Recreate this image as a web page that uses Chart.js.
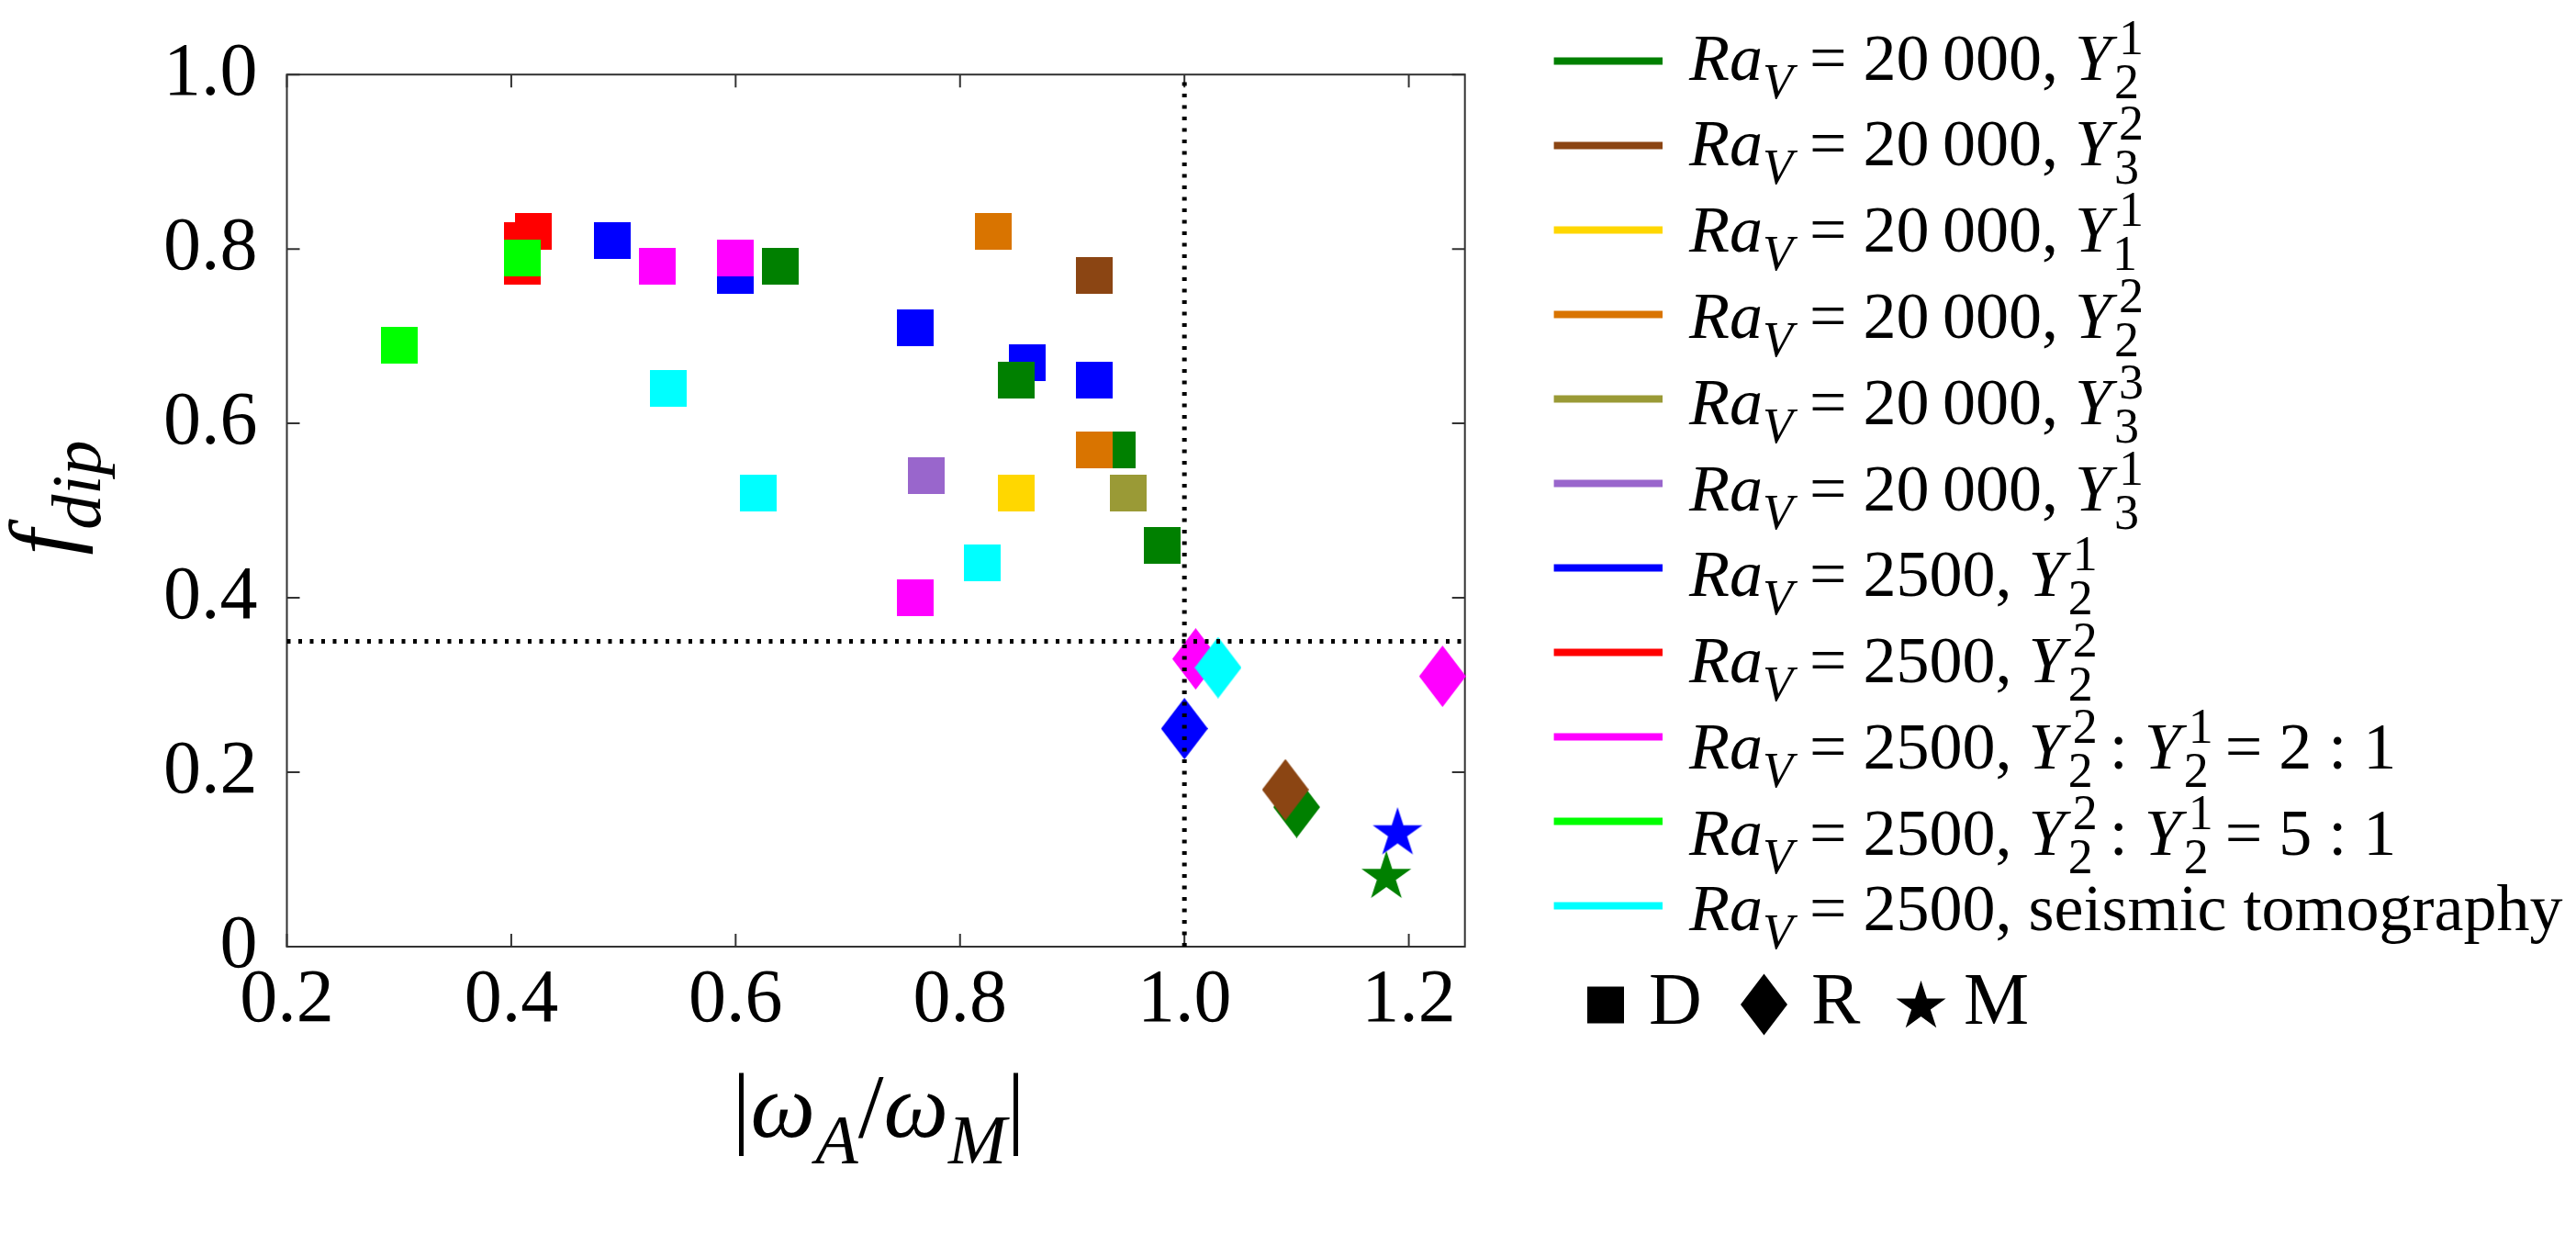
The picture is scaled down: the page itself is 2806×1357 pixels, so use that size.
<!DOCTYPE html>
<html>
<head>
<meta charset="utf-8">
<script src="https://cdn.jsdelivr.net/npm/chart.js@4.4.1/dist/chart.umd.min.js"></script>
<style>
  html, body { margin: 0; padding: 0; background: #fff; }
  #wrap { position: relative; width: 2806px; height: 1357px; }
  #graficaFdip { position: absolute; left: 0; top: 0; }
  #overlay { position: absolute; left: 0; top: 0; }
  #overlay text { font-family: 'Liberation Serif', 'Times New Roman', serif; fill: #000; }
</style>
</head>
<body>
<div id="wrap">
  <canvas id="graficaFdip" width="2806" height="1357"></canvas>
  <svg id="overlay" width="2806" height="1357" xmlns="http://www.w3.org/2000/svg"></svg>
</div>
<script>
// leyenda: *..* = cursiva, _x = subindice, ^x = superindice
const seriesLabels = [
  '*Ra*_V = 20\u2009000, *Y*_2^1',
  '*Ra*_V = 20\u2009000, *Y*_3^2',
  '*Ra*_V = 20\u2009000, *Y*_1^1',
  '*Ra*_V = 20\u2009000, *Y*_2^2',
  '*Ra*_V = 20\u2009000, *Y*_3^3',
  '*Ra*_V = 20\u2009000, *Y*_3^1',
  '*Ra*_V = 2500, *Y*_2^1',
  '*Ra*_V = 2500, *Y*_2^2',
  '*Ra*_V = 2500, *Y*_2^2 : *Y*_2^1 = 2 : 1',
  '*Ra*_V = 2500, *Y*_2^2 : *Y*_2^1 = 5 : 1',
  '*Ra*_V = 2500, seismic tomography'
];

// |omega_A / omega_M|
const seriesOmega = [
  [0.64, 0.85, 0.94, 0.98, 1.10, 1.18],
  [0.92, 1.09],
  [0.85],
  [0.83, 0.92],
  [0.95],
  [0.77],
  [0.49, 0.60, 0.76, 0.86, 0.92, 1.00, 1.19],
  [0.41, 0.41, 0.42],
  [0.53, 0.60, 0.76, 1.01, 1.23],
  [0.30, 0.41],
  [0.54, 0.62, 0.82, 1.03]
];

// f_dip
const seriesFdip = [
  [0.78, 0.65, 0.57, 0.46, 0.16, 0.08],
  [0.77, 0.18],
  [0.52],
  [0.82, 0.57],
  [0.52],
  [0.54],
  [0.81, 0.77, 0.71, 0.67, 0.65, 0.25, 0.13],
  [0.78, 0.81, 0.82],
  [0.78, 0.79, 0.40, 0.33, 0.31],
  [0.69, 0.79],
  [0.64, 0.52, 0.44, 0.32]
];

// regimen: D (dipolar), R (reversing), M (multipolar)
const seriesRegime = [
  ['D', 'D', 'D', 'D', 'R', 'M'],
  ['D', 'R'],
  ['D'],
  ['D', 'D'],
  ['D'],
  ['D'],
  ['D', 'D', 'D', 'D', 'D', 'R', 'M'],
  ['D', 'D', 'D'],
  ['D', 'D', 'D', 'R', 'R'],
  ['D', 'D'],
  ['D', 'D', 'D', 'R']
];
const regimeLabels = ['D', 'R', 'M'];

const xTicks = [0.2, 0.4, 0.6, 0.8, 1.0, 1.2];
const xTickLabels = ['0.2', '0.4', '0.6', '0.8', '1.0', '1.2'];
const yTicks = [0, 0.2, 0.4, 0.6, 0.8, 1.0];
const yTickLabels = ['0', '0.2', '0.4', '0.6', '0.8', '1.0'];
const xMin = 0.2, xMax = 1.25, yMin = 0, yMax = 1;
const omegaLimite = 1.0;
const fDipLimite = 0.35;

const seriesColors = ['#008000', '#8B4513', '#FFD700', '#D97400', '#9A9A36', '#9966CC',
                      '#0000FF', '#FF0000', '#FF00FF', '#00FF00', '#00FFFF'];
// mayor = se dibuja antes (debajo)
const drawOrder = [6, 5, 3, 4, 2, 1, 11, 10, 9, 8, 7];

const SERIF = "'Liberation Serif', 'Times New Roman', serif";
const LADO = 40, ROMBO_W = 51, ROMBO_H = 67, ESTRELLA_R = 28.5;

function puntosRombo(cx, cy) {
  return [[cx, cy - ROMBO_H / 2], [cx + ROMBO_W / 2, cy], [cx, cy + ROMBO_H / 2], [cx - ROMBO_W / 2, cy]];
}
function puntosEstrella(cx, cy) {
  const pts = [];
  for (let k = 0; k < 10; k++) {
    const a = -Math.PI / 2 + k * Math.PI / 5;
    const r = k % 2 === 0 ? ESTRELLA_R : ESTRELLA_R * 0.382;
    pts.push([cx + r * Math.cos(a), cy + r * Math.sin(a)]);
  }
  return pts;
}

function crearMarcador(forma, color) {
  const c = document.createElement('canvas');
  const g = c.getContext('2d');
  let pts = null;
  if (forma === 'D') {
    c.width = LADO; c.height = LADO;
    g.fillStyle = color;
    g.fillRect(0, 0, LADO, LADO);
    return c;
  }
  if (forma === 'R') {
    c.width = ROMBO_W; c.height = ROMBO_H;
    pts = puntosRombo(ROMBO_W / 2, ROMBO_H / 2);
  } else {
    c.width = 58; c.height = 58;
    pts = puntosEstrella(29, 29);
  }
  g.fillStyle = color;
  g.beginPath();
  pts.forEach((p, i) => i ? g.lineTo(p[0], p[1]) : g.moveTo(p[0], p[1]));
  g.closePath();
  g.fill();
  return c;
}

const marcadores = seriesColors.map(col => {
  const m = {};
  regimeLabels.forEach(r => { m[r] = crearMarcador(r, col); });
  return m;
});

const textoPlano = s => s.replace(/[*{}]/g, '').replace(/[_^]/g, '');

const datasets = seriesLabels.map((lab, i) => ({
  label: textoPlano(lab),
  data: seriesOmega[i].map((x, j) => ({ x: x, y: seriesFdip[i][j] })),
  pointStyle: ctx => ctx.dataIndex === undefined ? 'rect' : marcadores[i][seriesRegime[i][ctx.dataIndex]],
  pointRadius: 22,
  backgroundColor: seriesColors[i],
  borderColor: seriesColors[i],
  borderWidth: 0,
  showLine: false,
  order: drawOrder[i],
  clip: false
}));

// lineas de referencia punteadas
datasets.push({
  label: 'f_dip = ' + fDipLimite,
  data: [{ x: xMin, y: fDipLimite }, { x: xMax, y: fDipLimite }],
  showLine: true, borderColor: '#000', borderWidth: 5, borderDash: [4, 8.5],
  pointRadius: 0, order: 0, clip: false
});
datasets.push({
  label: '|wA/wM| = ' + omegaLimite,
  data: [{ x: omegaLimite, y: yMin }, { x: omegaLimite, y: yMax }],
  showLine: true, borderColor: '#000', borderWidth: 5, borderDash: [4, 8.5],
  pointRadius: 0, order: 0, clip: false
});

// marco con marcas hacia dentro en los cuatro lados
const marcoPlugin = {
  id: 'marco',
  beforeDatasetsDraw(chart) {
    const { ctx, chartArea: a, scales: { x, y } } = chart;
    ctx.save();
    ctx.strokeStyle = '#333';
    ctx.lineWidth = 2;
    ctx.strokeRect(a.left, a.top, a.right - a.left, a.bottom - a.top);
    ctx.beginPath();
    xTicks.forEach(v => {
      const px = x.getPixelForValue(v);
      ctx.moveTo(px, a.bottom); ctx.lineTo(px, a.bottom - 14);
      ctx.moveTo(px, a.top); ctx.lineTo(px, a.top + 14);
    });
    yTicks.forEach(v => {
      const py = y.getPixelForValue(v);
      ctx.moveTo(a.left, py); ctx.lineTo(a.left + 14, py);
      ctx.moveTo(a.right, py); ctx.lineTo(a.right - 14, py);
    });
    ctx.stroke();
    ctx.restore();
  }
};

new Chart(document.getElementById('graficaFdip').getContext('2d'), {
  type: 'scatter',
  data: { datasets: datasets },
  options: {
    responsive: false,
    animation: false,
    events: [],
    layout: { padding: { top: 51.4, right: 1210.3, bottom: 0, left: 0 } },
    plugins: { legend: { display: false }, tooltip: { enabled: false } },
    scales: {
      x: {
        type: 'linear', min: xMin, max: xMax,
        grid: { display: false, drawTicks: false },
        border: { display: false },
        afterBuildTicks: s => { s.ticks = xTicks.map(v => ({ value: v })); },
        afterFit: s => { s.height = 326; },
        ticks: {
          padding: 10, color: '#000', maxRotation: 0, autoSkip: false,
          font: { family: SERIF, size: 82 },
          callback: (v, i) => xTickLabels[i]
        }
      },
      y: {
        type: 'linear', min: yMin, max: yMax,
        grid: { display: false, drawTicks: false },
        border: { display: false },
        afterBuildTicks: s => { s.ticks = yTicks.map(v => ({ value: v })); },
        afterFit: s => { s.width = 312.5; },
        ticks: {
          padding: 32, color: '#000', autoSkip: false,
          font: { family: SERIF, size: 82 },
          callback: (v, i) => yTickLabels[i]
        }
      }
    }
  },
  plugins: [marcoPlugin]
});

// ---- textos con sub/superindices (SVG) ----
const NS = 'http://www.w3.org/2000/svg';
const svg = document.getElementById('overlay');

function nodo(tag, attrs, parent) {
  const e = document.createElementNS(NS, tag);
  for (const k in attrs) e.setAttribute(k, attrs[k]);
  if (parent) parent.appendChild(e);
  return e;
}

function leerGrupo(s, i) {
  if (s[i] === '{') {
    const fin = s.indexOf('}', i);
    return [s.slice(i + 1, fin), fin + 1];
  }
  return [s[i], i + 1];
}

function escribir(parent, marca, attrs, tam, tamSub, bajada, subida) {
  const t = nodo('text', Object.assign({ 'font-size': tam, style: 'white-space:pre' }, attrs), parent);
  let nivel = 0, italica = false, buf = '';
  const esLetra = s => /[A-Za-z]/.test(s);
  const pieza = (txt, size, ital, shift, dx) => {
    const a = { 'font-size': size, 'font-style': ital ? 'italic' : 'normal' };
    if (shift !== nivel) { a.dy = shift - nivel; nivel = shift; }
    if (dx) a.dx = dx;
    nodo('tspan', a, t).textContent = txt;
  };
  const volcar = () => { if (buf) { pieza(buf, tam, italica, 0, 0); buf = ''; } };
  let i = 0;
  while (i < marca.length) {
    const ch = marca[i];
    if (ch === '*') { volcar(); italica = !italica; i++; continue; }
    if (ch === '_' || ch === '^') {
      volcar();
      let sub = null, sup = null, g;
      [g, i] = leerGrupo(marca, i + 1);
      if (ch === '_') sub = g; else sup = g;
      if (ch === '_' && marca[i] === '^') { [sup, i] = leerGrupo(marca, i + 1); }
      if (sup !== null) pieza(sup, tamSub, esLetra(sup), -subida, sub !== null ? 8 : 2);
      if (sub !== null) pieza(sub, tamSub, esLetra(sub), bajada, sup !== null ? -(sup.length * 0.5 * tamSub) - 5 : 0);
      continue;
    }
    buf += ch;
    i++;
  }
  volcar();
  return t;
}

// titulos de ejes
escribir(svg, '|*\u03C9*_A/*\u03C9*_M|', { x: 957, y: 1238, 'text-anchor': 'middle' }, 100, 76, 29, 0);
escribir(svg, '*f*_{dip}', { x: 0, y: 0, 'text-anchor': 'middle', transform: 'translate(80,542) rotate(-90)' }, 100, 76, 29, 0);

// leyenda de series
seriesLabels.forEach((lab, i) => {
  const yl = 66.6 + 92 * i;
  nodo('line', { x1: 1692.6, x2: 1811, y1: yl, y2: yl, stroke: seriesColors[i], 'stroke-width': 8 }, svg);
  const base = 86.6 + 93.8 * i - (lab.includes('^') ? 0 : 12);
  escribir(svg, lab, { x: 1840, y: base }, 72, 54, 20, 28);
});

// leyenda de regimenes
const simbolos = {
  D: () => nodo('rect', { x: 1729, y: 1074.5, width: LADO, height: LADO, fill: '#000' }, svg),
  R: () => nodo('polygon', { points: puntosRombo(1921.5, 1094).map(p => p.join(',')).join(' '), fill: '#000' }, svg),
  M: () => nodo('polygon', { points: puntosEstrella(2092.5, 1096.2).map(p => p.join(',')).join(' '), fill: '#000' }, svg)
};
const posTexto = { D: 1796, R: 1973, M: 2139 };
regimeLabels.forEach(r => {
  simbolos[r]();
  nodo('text', { x: posTexto[r], y: 1115.4, 'font-size': 80 }, svg).textContent = r;
});
</script>
</body>
</html>
